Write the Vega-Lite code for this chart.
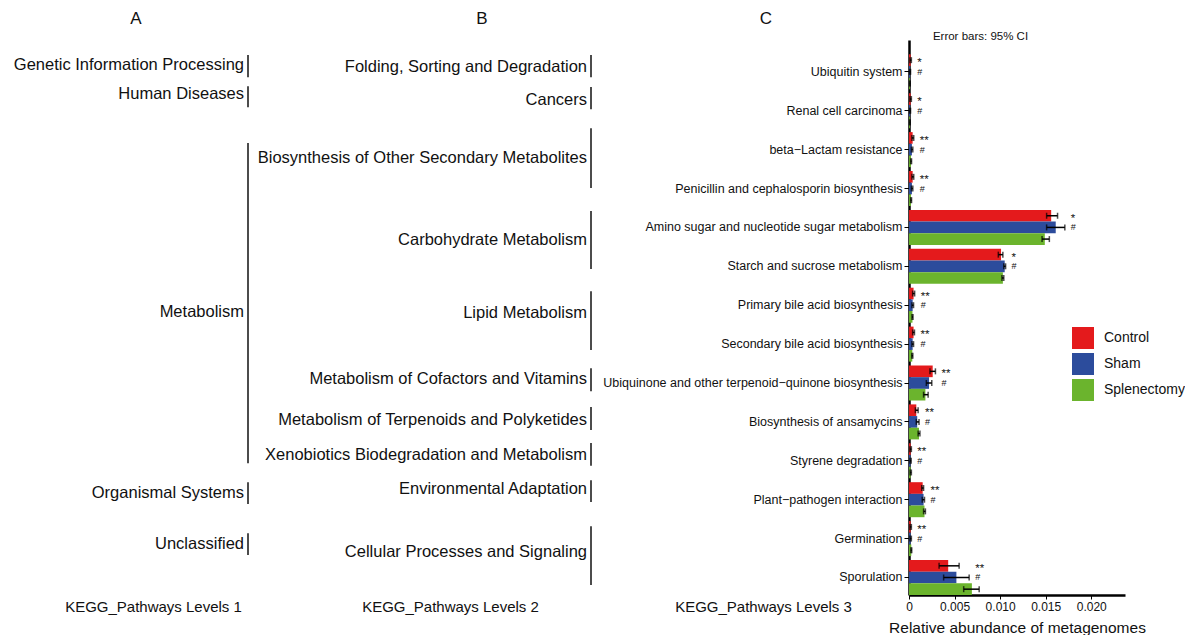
{
  "$schema": "https://vega.github.io/schema/vega-lite/v6.json",
  "padding": {"top": 10, "left": 0, "right": 0, "bottom": 0},
  "background": "white",
  "bounds": "flush",
  "spacing": 909,
  "config": {"view": {"stroke": null}, "font": "Liberation Sans"},
  "hconcat": [
    {
      "bounds": "flush",
      "spacing": 3,
      "hconcat": [
        {
          "width": 248,
          "height": 555,
          "title": {"text": "A", "anchor": "middle", "frame": "group", "dx": 12, "fontSize": 17, "fontWeight": "normal", "font": "Liberation Sans", "color": "#111", "offset": 12},
          "data": {"values": [
            {"name": "Genetic Information Processing", "ty": -0.17, "y1": -0.43, "y2": 0.14},
            {"name": "Human Diseases", "ty": 0.58, "y1": 0.37, "y2": 0.91},
            {"name": "Metabolism", "ty": 6.18, "y1": 1.83, "y2": 10.06},
            {"name": "Organismal Systems", "ty": 10.82, "y1": 10.55, "y2": 11.11},
            {"name": "Unclassified", "ty": 12.14, "y1": 11.86, "y2": 12.42}
          ]},
          "layer": [
            {
              "mark": {"type": "rule", "strokeWidth": 1.5, "color": "#111"},
              "encoding": {
                "x": {"datum": 1, "type": "quantitative", "scale": {"domain": [0, 1], "nice": false},
                  "axis": {"title": "KEGG_Pathways Levels 1", "labels": false, "ticks": false, "domain": false, "grid": false, "titleX": 153, "titleY": 11, "titleAlign": "center", "titleBaseline": "middle", "titleFontSize": 15, "titleFontWeight": "normal", "titleColor": "#111"}},
                "y": {"field": "y1", "type": "quantitative", "scale": {"domain": [-0.817, 13.45], "reverse": true, "nice": false, "zero": false}, "axis": null},
                "y2": {"field": "y2"}
              }
            },
            {
              "mark": {"type": "text", "align": "right", "baseline": "middle", "dx": -4, "fontSize": 16.5, "color": "#111"},
              "encoding": {
                "x": {"datum": 1, "type": "quantitative"},
                "y": {"field": "ty", "type": "quantitative"},
                "text": {"field": "name"}
              }
            }
          ]
        },
        {
          "width": 340,
          "height": 555,
          "title": {"text": "B", "anchor": "middle", "frame": "group", "dx": 61, "fontSize": 17, "fontWeight": "normal", "font": "Liberation Sans", "color": "#111", "offset": 12},
          "data": {"values": [
            {"name": "Folding, Sorting and Degradation", "ty": -0.12, "y1": -0.43, "y2": 0.14},
            {"name": "Cancers", "ty": 0.72, "y1": 0.39, "y2": 0.96},
            {"name": "Biosynthesis of Other Secondary Metabolites", "ty": 2.21, "y1": 1.45, "y2": 2.99},
            {"name": "Carbohydrate Metabolism", "ty": 4.32, "y1": 3.58, "y2": 5.07},
            {"name": "Lipid Metabolism", "ty": 6.2, "y1": 5.64, "y2": 7.15},
            {"name": "Metabolism of Cofactors and Vitamins", "ty": 7.89, "y1": 7.62, "y2": 8.21},
            {"name": "Metabolism of Terpenoids and Polyketides", "ty": 8.95, "y1": 8.62, "y2": 9.21},
            {"name": "Xenobiotics Biodegradation and Metabolism", "ty": 9.85, "y1": 9.54, "y2": 10.13},
            {"name": "Environmental Adaptation", "ty": 10.72, "y1": 10.5, "y2": 11.06},
            {"name": "Cellular Processes and Signaling", "ty": 12.34, "y1": 11.68, "y2": 13.19}
          ]},
          "layer": [
            {
              "mark": {"type": "rule", "strokeWidth": 1.5, "color": "#111"},
              "encoding": {
                "x": {"datum": 1, "type": "quantitative", "scale": {"domain": [0, 1], "nice": false},
                  "axis": {"title": "KEGG_Pathways Levels 2", "labels": false, "ticks": false, "domain": false, "grid": false, "titleX": 199, "titleY": 11, "titleAlign": "center", "titleBaseline": "middle", "titleFontSize": 15, "titleFontWeight": "normal", "titleColor": "#111"}},
                "y": {"field": "y1", "type": "quantitative", "scale": {"domain": [-0.817, 13.45], "reverse": true, "nice": false, "zero": false}, "axis": null},
                "y2": {"field": "y2"}
              }
            },
            {
              "mark": {"type": "text", "align": "right", "baseline": "middle", "dx": -4, "fontSize": 16.5, "color": "#111"},
              "encoding": {
                "x": {"datum": 1, "type": "quantitative"},
                "y": {"field": "ty", "type": "quantitative"},
                "text": {"field": "name"}
              }
            }
          ]
        }
      ]
    },
    {
      "width": 216,
      "height": 555,
      "title": {"text": "C", "anchor": "middle", "frame": "group", "dx": -251, "fontSize": 17, "fontWeight": "normal", "font": "Liberation Sans", "color": "#111", "offset": 2},
      "data": {"values": [
        {"pathway": "Ubiquitin system", "group": "Control", "value": 0.00018, "lo": 0.0001, "hi": 0.00026, "sig": "*", "sigx": 0.00026},
        {"pathway": "Ubiquitin system", "group": "Sham", "value": 0.00012, "lo": 0.00007, "hi": 0.00017, "sig": "#", "sigx": 0.00026},
        {"pathway": "Ubiquitin system", "group": "Splenectomy", "value": 0.0001, "lo": 0.00006, "hi": 0.00014, "sig": "", "sigx": 0.00026},
        {"pathway": "Renal cell carcinoma", "group": "Control", "value": 0.00018, "lo": 0.0001, "hi": 0.00026, "sig": "*", "sigx": 0.00026},
        {"pathway": "Renal cell carcinoma", "group": "Sham", "value": 0.00012, "lo": 0.00007, "hi": 0.00017, "sig": "#", "sigx": 0.00026},
        {"pathway": "Renal cell carcinoma", "group": "Splenectomy", "value": 0.0001, "lo": 0.00006, "hi": 0.00014, "sig": "", "sigx": 0.00026},
        {"pathway": "beta−Lactam resistance", "group": "Control", "value": 0.0004, "lo": 0.00032, "hi": 0.00052, "sig": "**", "sigx": 0.00052},
        {"pathway": "beta−Lactam resistance", "group": "Sham", "value": 0.00032, "lo": 0.00026, "hi": 0.00042, "sig": "#", "sigx": 0.00052},
        {"pathway": "beta−Lactam resistance", "group": "Splenectomy", "value": 0.00022, "lo": 0.00018, "hi": 0.00028, "sig": "", "sigx": 0.00052},
        {"pathway": "Penicillin and cephalosporin biosynthesis", "group": "Control", "value": 0.0004, "lo": 0.00032, "hi": 0.00052, "sig": "**", "sigx": 0.00052},
        {"pathway": "Penicillin and cephalosporin biosynthesis", "group": "Sham", "value": 0.00032, "lo": 0.00026, "hi": 0.00042, "sig": "#", "sigx": 0.00052},
        {"pathway": "Penicillin and cephalosporin biosynthesis", "group": "Splenectomy", "value": 0.00022, "lo": 0.00018, "hi": 0.00028, "sig": "", "sigx": 0.00052},
        {"pathway": "Amino sugar and nucleotide sugar metabolism", "group": "Control", "value": 0.0156, "lo": 0.0151, "hi": 0.0163, "sig": "*", "sigx": 0.0171},
        {"pathway": "Amino sugar and nucleotide sugar metabolism", "group": "Sham", "value": 0.0161, "lo": 0.0151, "hi": 0.0171, "sig": "#", "sigx": 0.0171},
        {"pathway": "Amino sugar and nucleotide sugar metabolism", "group": "Splenectomy", "value": 0.0149, "lo": 0.0146, "hi": 0.0154, "sig": "", "sigx": 0.0171},
        {"pathway": "Starch and sucrose metabolism", "group": "Control", "value": 0.0101, "lo": 0.0098, "hi": 0.0103, "sig": "*", "sigx": 0.0106},
        {"pathway": "Starch and sucrose metabolism", "group": "Sham", "value": 0.0105, "lo": 0.0104, "hi": 0.0106, "sig": "#", "sigx": 0.0106},
        {"pathway": "Starch and sucrose metabolism", "group": "Splenectomy", "value": 0.0103, "lo": 0.0102, "hi": 0.0104, "sig": "", "sigx": 0.0106},
        {"pathway": "Primary bile acid biosynthesis", "group": "Control", "value": 0.0005, "lo": 0.0004, "hi": 0.00062, "sig": "**", "sigx": 0.00062},
        {"pathway": "Primary bile acid biosynthesis", "group": "Sham", "value": 0.0004, "lo": 0.00032, "hi": 0.0005, "sig": "#", "sigx": 0.00062},
        {"pathway": "Primary bile acid biosynthesis", "group": "Splenectomy", "value": 0.00038, "lo": 0.00033, "hi": 0.00044, "sig": "", "sigx": 0.00062},
        {"pathway": "Secondary bile acid biosynthesis", "group": "Control", "value": 0.0005, "lo": 0.0004, "hi": 0.0006, "sig": "**", "sigx": 0.0006},
        {"pathway": "Secondary bile acid biosynthesis", "group": "Sham", "value": 0.0004, "lo": 0.00032, "hi": 0.0005, "sig": "#", "sigx": 0.0006},
        {"pathway": "Secondary bile acid biosynthesis", "group": "Splenectomy", "value": 0.00036, "lo": 0.0003, "hi": 0.00042, "sig": "", "sigx": 0.0006},
        {"pathway": "Ubiquinone and other terpenoid−quinone biosynthesis", "group": "Control", "value": 0.0026, "lo": 0.0023, "hi": 0.0029, "sig": "**", "sigx": 0.0029},
        {"pathway": "Ubiquinone and other terpenoid−quinone biosynthesis", "group": "Sham", "value": 0.0022, "lo": 0.0019, "hi": 0.0025, "sig": "#", "sigx": 0.0029},
        {"pathway": "Ubiquinone and other terpenoid−quinone biosynthesis", "group": "Splenectomy", "value": 0.0018, "lo": 0.0016, "hi": 0.0021, "sig": "", "sigx": 0.0029},
        {"pathway": "Biosynthesis of ansamycins", "group": "Control", "value": 0.0008, "lo": 0.0007, "hi": 0.001, "sig": "**", "sigx": 0.0011},
        {"pathway": "Biosynthesis of ansamycins", "group": "Sham", "value": 0.0009, "lo": 0.0008, "hi": 0.0011, "sig": "#", "sigx": 0.0011},
        {"pathway": "Biosynthesis of ansamycins", "group": "Splenectomy", "value": 0.0011, "lo": 0.001, "hi": 0.0012, "sig": "", "sigx": 0.0011},
        {"pathway": "Styrene degradation", "group": "Control", "value": 0.00018, "lo": 0.0001, "hi": 0.00026, "sig": "**", "sigx": 0.00026},
        {"pathway": "Styrene degradation", "group": "Sham", "value": 0.00016, "lo": 0.0001, "hi": 0.00024, "sig": "#", "sigx": 0.00026},
        {"pathway": "Styrene degradation", "group": "Splenectomy", "value": 0.00018, "lo": 0.00012, "hi": 0.00026, "sig": "", "sigx": 0.00026},
        {"pathway": "Plant−pathogen interaction", "group": "Control", "value": 0.0015, "lo": 0.0014, "hi": 0.0016, "sig": "**", "sigx": 0.0017},
        {"pathway": "Plant−pathogen interaction", "group": "Sham", "value": 0.0016, "lo": 0.00145, "hi": 0.0017, "sig": "#", "sigx": 0.0017},
        {"pathway": "Plant−pathogen interaction", "group": "Splenectomy", "value": 0.0017, "lo": 0.0016, "hi": 0.0018, "sig": "", "sigx": 0.0017},
        {"pathway": "Germination", "group": "Control", "value": 0.00018, "lo": 0.0001, "hi": 0.00026, "sig": "**", "sigx": 0.00026},
        {"pathway": "Germination", "group": "Sham", "value": 0.00018, "lo": 0.0001, "hi": 0.00026, "sig": "#", "sigx": 0.00026},
        {"pathway": "Germination", "group": "Splenectomy", "value": 0.00025, "lo": 0.0002, "hi": 0.0003, "sig": "", "sigx": 0.00026},
        {"pathway": "Sporulation", "group": "Control", "value": 0.0043, "lo": 0.0033, "hi": 0.0055, "sig": "**", "sigx": 0.0066},
        {"pathway": "Sporulation", "group": "Sham", "value": 0.0052, "lo": 0.0038, "hi": 0.0066, "sig": "#", "sigx": 0.0066},
        {"pathway": "Sporulation", "group": "Splenectomy", "value": 0.0069, "lo": 0.006, "hi": 0.0077, "sig": "", "sigx": 0.0066}
      ]},
      "encoding": {
        "y": {
          "field": "pathway", "type": "nominal",
          "sort": ["Ubiquitin system", "Renal cell carcinoma", "beta−Lactam resistance", "Penicillin and cephalosporin biosynthesis", "Amino sugar and nucleotide sugar metabolism", "Starch and sucrose metabolism", "Primary bile acid biosynthesis", "Secondary bile acid biosynthesis", "Ubiquinone and other terpenoid−quinone biosynthesis", "Biosynthesis of ansamycins", "Styrene degradation", "Plant−pathogen interaction", "Germination", "Sporulation"],
          "scale": {"paddingInner": 0.1, "paddingOuter": 0.184, "align": 1},
          "axis": {"title": "KEGG_Pathways Levels 3", "titleAngle": 0, "titleX": -146, "titleY": 566, "titleAlign": "center", "titleBaseline": "middle", "titleFontSize": 15, "titleFontWeight": "normal", "titleColor": "#111", "labelFontSize": 12.5, "labelColor": "#111", "labelPadding": 2, "labelLimit": 400, "tickSize": 5, "tickColor": "black", "domainColor": "black", "domainWidth": 2.5}
        },
        "yOffset": {"field": "group", "type": "nominal", "scale": {"domain": ["Control", "Sham", "Splenectomy"], "paddingInner": 0, "paddingOuter": 0}}
      },
      "layer": [
        {
          "mark": {"type": "bar"},
          "encoding": {
            "x": {"field": "value", "type": "quantitative", "scale": {"domain": [0, 0.0237], "nice": false},
              "axis": {"title": "Relative abundance of metagenomes", "values": [0, 0.005, 0.01, 0.015, 0.02], "labelExpr": "datum.value == 0 ? '0' : format(datum.value, '.3f')", "grid": false, "domainColor": "black", "domainWidth": 2.5, "tickColor": "black", "tickSize": 4, "labelFontSize": 12, "labelColor": "#111", "labelPadding": 2, "labelFlush": false, "titleFontSize": 15.5, "titleFontWeight": "normal", "titleColor": "#111", "titlePadding": 8}},
            "color": {"field": "group", "type": "nominal",
              "scale": {"domain": ["Control", "Sham", "Splenectomy"], "range": ["#E41A1C", "#2C4C9C", "#6BB42D"]},
              "legend": {"title": null, "orient": "none", "legendX": 1072, "legendY": 287, "symbolType": "square", "symbolSize": 484, "symbolStrokeWidth": 0, "symbolOpacity": 1, "labelFontSize": 14, "labelOffset": 10, "labelColor": "#111", "rowPadding": 4, "padding": 0}}
          }
        },
        {
          "mark": {"type": "rule", "color": "black", "strokeWidth": 1.5},
          "encoding": {"x": {"field": "lo", "type": "quantitative", "axis": null}, "x2": {"field": "hi"}}
        },
        {
          "mark": {"type": "tick", "color": "black", "thickness": 1.5, "size": 6},
          "encoding": {"x": {"field": "lo", "type": "quantitative", "axis": null}}
        },
        {
          "mark": {"type": "tick", "color": "black", "thickness": 1.5, "size": 6},
          "encoding": {"x": {"field": "hi", "type": "quantitative", "axis": null}}
        },
        {
          "transform": [{"filter": "datum.group == 'Control'"}],
          "mark": {"type": "text", "align": "left", "baseline": "middle", "dx": 6, "dy": 3, "fontSize": 11.5, "color": "#111"},
          "encoding": {
            "x": {"field": "sigx", "type": "quantitative",
              "axis": {"orient": "top", "title": "Error bars: 95% CI", "labels": false, "ticks": false, "domain": false, "grid": false, "titleX": 71, "titleY": -4, "titleAlign": "center", "titleBaseline": "middle", "titleFontSize": 11.5, "titleFontWeight": "normal", "titleColor": "#111"}},
            "text": {"field": "sig"}
          }
        },
        {
          "transform": [{"filter": "datum.group == 'Sham'"}],
          "mark": {"type": "text", "align": "left", "baseline": "middle", "dx": 6, "fontSize": 9, "color": "#111"},
          "encoding": {
            "x": {"field": "sigx", "type": "quantitative", "axis": null},
            "text": {"field": "sig"}
          }
        }
      ],
      "resolve": {"axis": {"x": "independent"}}
    }
  ]
}
